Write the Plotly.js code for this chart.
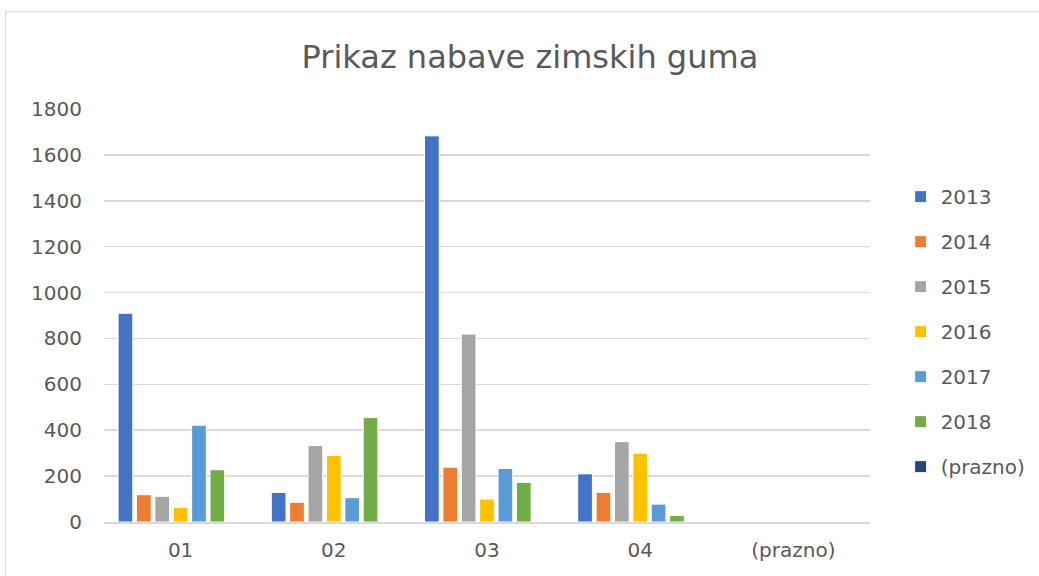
<!DOCTYPE html>
<html>
<head>
<meta charset="utf-8">
<script src="https://cdn.plot.ly/plotly-3.0.1.min.js"></script>
<style>
html,body{margin:0;padding:0;background:#fff;}
#wrap{position:relative;width:1039px;height:576px;overflow:hidden;}
#chart{width:1039px;height:576px;}
#frame{position:absolute;left:5px;top:11px;width:1100px;height:700px;border:1px solid #d9d9d9;pointer-events:none;}
</style>
</head>
<body>
<div id="wrap"><div id="chart"></div><div id="frame"></div></div>
<script>
const categories = ["01", "02", "03", "04", "(prazno)"];
const seriesNames = ["2013", "2014", "2015", "2016", "2017", "2018", "(prazno)"];
const v2013 = [910, 129, 1683, 210, null];
const v2014 = [119, 86, 239, 129, null];
const v2015 = [112, 333, 819, 350, null];
const v2016 = [63, 290, 100, 300, null];
const v2017 = [422, 106, 233, 78, null];
const v2018 = [228, 455, 173, 28, null];
const vPrazno = [null, null, null, null, null];
const yTicks = [0, 200, 400, 600, 800, 1000, 1200, 1400, 1600, 1800];

const values = [v2013, v2014, v2015, v2016, v2017, v2018, vPrazno];
const colors = ["#4472C4", "#ED7D31", "#A5A5A5", "#FFC000", "#5B9BD5", "#70AD47", "#264478"];

const traces = seriesNames.map((name, i) => ({
  type: "bar",
  name: name,
  x: categories,
  y: values[i],
  legendgroup: "g" + i,
  marker: {color: colors[i], line: {color: "#ffffff", width: 1}},
  hoverinfo: "x+y+name"
}));

const font = "DejaVu Sans, Verdana, sans-serif";
const layout = {
  width: 1039,
  height: 576,
  paper_bgcolor: "#ffffff",
  plot_bgcolor: "#ffffff",
  margin: {l: 104, r: 169, t: 109, b: 54, autoexpand: false},
  barmode: "group",
  bargap: 0.16,
  bargroupgap: 0.2,
  title: {
    text: "Prikaz nabave zimskih guma",
    font: {family: font, size: 32, color: "#595959"},
    x: 0.51, xanchor: "center", xref: "container",
    y: 0.902, yanchor: "middle", yref: "container"
  },
  xaxis: {
    type: "category",
    categoryorder: "array",
    categoryarray: categories,
    range: [-0.5, 4.5],
    showgrid: false,
    showline: true,
    linecolor: "#d9d9d9",
    linewidth: 1.5,
    ticks: "",
    tickfont: {family: font, size: 20, color: "#595959"},
    ticklabelstandoff: 9,
    fixedrange: true
  },
  yaxis: {
    range: [0, 1800],
    tickmode: "array",
    tickvals: yTicks,
    ticktext: yTicks.map(String),
    showgrid: true,
    gridcolor: "#d9d9d9",
    gridwidth: 1.5,
    zeroline: false,
    showline: false,
    ticks: "",
    tickfont: {family: font, size: 20, color: "#595959"},
    ticklabelstandoff: 21,
    fixedrange: true
  },
  legend: {
    x: 1.04, xanchor: "left",
    y: 0.835, yanchor: "top",
    font: {family: font, size: 20, color: "#595959"},
    tracegroupgap: 16,
    itemwidth: 30,
    bgcolor: "rgba(0,0,0,0)"
  },
  showlegend: true
};

Plotly.newPlot("chart", traces, layout, {displayModeBar: false, staticPlot: true});
</script>
</body>
</html>
